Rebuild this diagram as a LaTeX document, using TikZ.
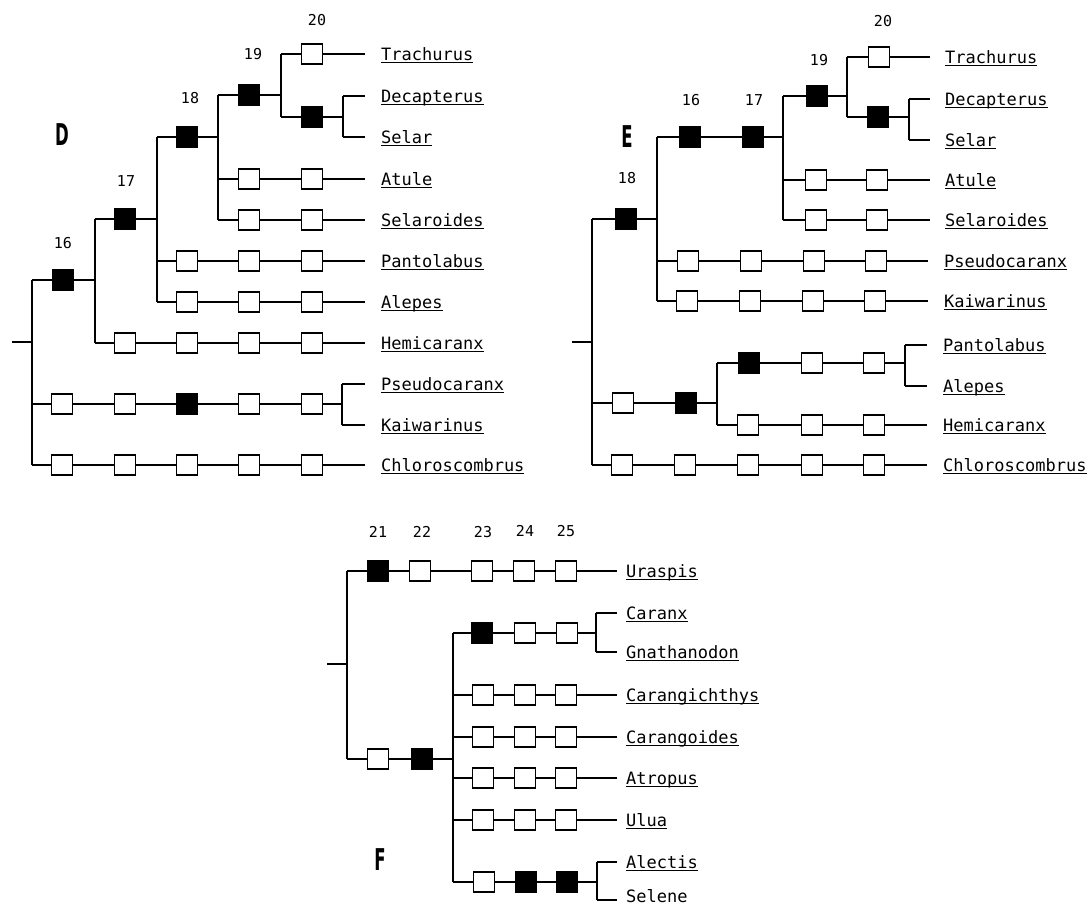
\documentclass[tikz,border=0pt]{standalone}
\usepackage{fontspec}
\newfontfamily\monofam{DejaVu Sans Mono}
\newfontfamily\panelfam{DejaVu Sans}
\newcommand\taxsize{\monofam\fontsize{17}{17}\selectfont}
% underlined genus name
\newcommand\ulab[1]{\sbox0{#1}\rlap{\rule[-2.7pt]{\wd0}{1pt}}\usebox0}
\tikzset{
  br/.style={line width=1.8pt},
  chr/.style={draw, line width=1.4pt, minimum width=21pt, minimum height=20pt, inner sep=0pt},
  opn/.style={chr, fill=white},
  sol/.style={chr, fill=black},
  taxon/.style={anchor=base west, inner sep=0pt, font=\taxsize},
  num/.style={inner sep=0pt, font=\monofam\fontsize{15}{15}\selectfont},
  panel/.style={inner sep=0pt, font=\panelfam\bfseries\fontsize{30}{30}\selectfont},
}
\begin{document}
\begin{tikzpicture}[x=1pt,y=-1pt]
\useasboundingbox (0,0) rectangle (1089,908);

% ================= Tree D =================
\node[panel] (pD) at (62,135) {\scalebox{0.55}[1]{D}};
\coordinate (dr0) at (12,342);  \coordinate (dr) at (32,342);
\coordinate (dr1) at (32,280);  \coordinate (dr2) at (32,465); \coordinate (drp) at (32,404);
\coordinate (dj16) at (95,280); \coordinate (dj16a) at (95,219); \coordinate (dj16b) at (95,343);
\coordinate (dj17) at (157,219); \coordinate (dj17a) at (157,137); \coordinate (dj17b) at (157,302); \coordinate (dj17c) at (157,261);
\coordinate (dj18) at (218,137); \coordinate (dj18a) at (218,95); \coordinate (dj18b) at (218,220); \coordinate (dj18c) at (218,179);
\coordinate (dj19) at (281,95); \coordinate (dj19a) at (281,54); \coordinate (dj19b) at (281,117);
\coordinate (dj20) at (343,117); \coordinate (dj20a) at (343,96); \coordinate (dj20b) at (343,137);
\coordinate (djp) at (342,404); \coordinate (djpa) at (342,384); \coordinate (djpb) at (342,425);
% line ends
\coordinate (deTra) at (365,54);  \coordinate (deDec) at (365,96);  \coordinate (deSel) at (365,137);
\coordinate (deAtu) at (365,179); \coordinate (deSlr) at (365,220); \coordinate (dePan) at (365,261);
\coordinate (deAle) at (365,302); \coordinate (deHem) at (365,343); \coordinate (dePse) at (365,384);
\coordinate (deKai) at (365,425); \coordinate (deChl) at (365,465);

\draw[br] (dr0) -- (dr);
\draw[br] (dr1) -- (dr2);
\draw[br] (dj16a) -- (dj16b);
\draw[br] (dj17a) -- (dj17b);
\draw[br] (dj18a) -- (dj18b);
\draw[br] (dj19a) -- (dj19b);
\draw[br] (dj20a) -- (dj20b);
\draw[br] (djpa) -- (djpb);

\node[sol] (d16) at (63,280) {};
\node[sol] (d17) at (125,219) {};
\node[sol] (d18) at (187,137) {};
\node[sol] (d19) at (249,95) {};
\node[opn] (d20) at (312,54) {};
\node[sol] (dDS) at (312,117) {};
\node[opn] (dAt1) at (249,179) {}; \node[opn] (dAt2) at (312,179) {};
\node[opn] (dSl1) at (249,220) {}; \node[opn] (dSl2) at (312,220) {};
\node[opn] (dPa1) at (187,261) {}; \node[opn] (dPa2) at (249,261) {}; \node[opn] (dPa3) at (312,261) {};
\node[opn] (dAl1) at (187,302) {}; \node[opn] (dAl2) at (249,302) {}; \node[opn] (dAl3) at (312,302) {};
\node[opn] (dHe1) at (125,343) {}; \node[opn] (dHe2) at (187,343) {}; \node[opn] (dHe3) at (249,343) {}; \node[opn] (dHe4) at (312,343) {};
\node[opn] (dPs1) at (62,404) {}; \node[opn] (dPs2) at (125,404) {}; \node[sol] (dPs3) at (187,404) {}; \node[opn] (dPs4) at (249,404) {}; \node[opn] (dPs5) at (312,404) {};
\node[opn] (dCh1) at (62,465) {}; \node[opn] (dCh2) at (125,465) {}; \node[opn] (dCh3) at (187,465) {}; \node[opn] (dCh4) at (249,465) {}; \node[opn] (dCh5) at (312,465) {};

\draw[br] (dr1) -- (d16) -- (dj16);
\draw[br] (dj16a) -- (d17) -- (dj17);
\draw[br] (dj17a) -- (d18) -- (dj18);
\draw[br] (dj18a) -- (d19) -- (dj19);
\draw[br] (dj19a) -- (d20) -- (deTra);
\draw[br] (dj19b) -- (dDS) -- (dj20);
\draw[br] (dj20a) -- (deDec);
\draw[br] (dj20b) -- (deSel);
\draw[br] (dj18c) -- (dAt1) -- (dAt2) -- (deAtu);
\draw[br] (dj18b) -- (dSl1) -- (dSl2) -- (deSlr);
\draw[br] (dj17c) -- (dPa1) -- (dPa2) -- (dPa3) -- (dePan);
\draw[br] (dj17b) -- (dAl1) -- (dAl2) -- (dAl3) -- (deAle);
\draw[br] (dj16b) -- (dHe1) -- (dHe2) -- (dHe3) -- (dHe4) -- (deHem);
\draw[br] (drp) -- (dPs1) -- (dPs2) -- (dPs3) -- (dPs4) -- (dPs5) -- (djp);
\draw[br] (djpa) -- (dePse);
\draw[br] (djpb) -- (deKai);
\draw[br] (dr2) -- (dCh1) -- (dCh2) -- (dCh3) -- (dCh4) -- (dCh5) -- (deChl);

\node[num] (dn16) at (63,243) {16};
\node[num] (dn17) at (126,181) {17};
\node[num] (dn18) at (190,98) {18};
\node[num] (dn19) at (253,54) {19};
\node[num] (dn20) at (317,20) {20};

\node[taxon] (dtTra) at (381,60)  {\ulab{Trachurus}};
\node[taxon] (dtDec) at (381,102) {\ulab{Decapterus}};
\node[taxon] (dtSel) at (381,143) {\ulab{Selar}};
\node[taxon] (dtAtu) at (381,185) {\ulab{Atule}};
\node[taxon] (dtSlr) at (381,226) {\ulab{Selaroides}};
\node[taxon] (dtPan) at (381,267) {\ulab{Pantolabus}};
\node[taxon] (dtAle) at (381,308) {\ulab{Alepes}};
\node[taxon] (dtHem) at (381,349) {\ulab{Hemicaranx}};
\node[taxon] (dtPse) at (381,390) {\ulab{Pseudocaranx}};
\node[taxon] (dtKai) at (381,431) {\ulab{Kaiwarinus}};
\node[taxon] (dtChl) at (381,471) {\ulab{Chloroscombrus}};

% ================= Tree E =================
\node[panel] (pE) at (627,137) {\scalebox{0.55}[1]{E}};
\coordinate (er0) at (572,342); \coordinate (er) at (592,342);
\coordinate (er1) at (592,219); \coordinate (er2) at (592,465); \coordinate (erx) at (592,403);
\coordinate (ej18) at (657,219); \coordinate (ej18a) at (657,137); \coordinate (ej18b) at (657,301); \coordinate (ej18c) at (657,261);
\coordinate (ej17) at (783,137); \coordinate (ej17a) at (783,96); \coordinate (ej17b) at (783,220); \coordinate (ej17c) at (783,180);
\coordinate (ej19) at (847,96); \coordinate (ej19a) at (847,57); \coordinate (ej19b) at (847,117);
\coordinate (ej20) at (909,117); \coordinate (ej20a) at (909,99); \coordinate (ej20b) at (909,140);
\coordinate (ejx) at (717,403); \coordinate (ejxa) at (717,363); \coordinate (ejxb) at (717,425);
\coordinate (ejp) at (905,363); \coordinate (ejpa) at (905,345); \coordinate (ejpb) at (905,386);
% line ends
\coordinate (eeTra) at (930,57);  \coordinate (eeDec) at (930,99);  \coordinate (eeSel) at (930,140);
\coordinate (eeAtu) at (930,180); \coordinate (eeSlr) at (930,220); \coordinate (eePse) at (928,261);
\coordinate (eeKai) at (928,301); \coordinate (eePan) at (927,345); \coordinate (eeAle) at (927,386);
\coordinate (eeHem) at (927,425); \coordinate (eeChl) at (927,465);

\draw[br] (er0) -- (er);
\draw[br] (er1) -- (er2);
\draw[br] (ej18a) -- (ej18b);
\draw[br] (ej17a) -- (ej17b);
\draw[br] (ej19a) -- (ej19b);
\draw[br] (ej20a) -- (ej20b);
\draw[br] (ejxa) -- (ejxb);
\draw[br] (ejpa) -- (ejpb);

\node[sol] (e18) at (626,219) {};
\node[sol] (e16) at (690,137) {};
\node[sol] (e17) at (753,137) {};
\node[sol] (e19) at (817,96) {};
\node[opn] (e20) at (879,57) {};
\node[sol] (eDS) at (878,117) {};
\node[opn] (eAt1) at (816,180) {}; \node[opn] (eAt2) at (877,180) {};
\node[opn] (eSl1) at (816,220) {}; \node[opn] (eSl2) at (877,220) {};
\node[opn] (ePs1) at (688,261) {}; \node[opn] (ePs2) at (751,261) {}; \node[opn] (ePs3) at (814,261) {}; \node[opn] (ePs4) at (876,261) {};
\node[opn] (eKa1) at (687,301) {}; \node[opn] (eKa2) at (750,301) {}; \node[opn] (eKa3) at (813,301) {}; \node[opn] (eKa4) at (875,301) {};
\node[opn] (eX1) at (623,403) {}; \node[sol] (eX2) at (686,403) {};
\node[sol] (eP1) at (749,363) {}; \node[opn] (eP2) at (812,363) {}; \node[opn] (eP3) at (874,363) {};
\node[opn] (eHe1) at (748,425) {}; \node[opn] (eHe2) at (812,425) {}; \node[opn] (eHe3) at (874,425) {};
\node[opn] (eCh1) at (622,465) {}; \node[opn] (eCh2) at (685,465) {}; \node[opn] (eCh3) at (748,465) {}; \node[opn] (eCh4) at (812,465) {}; \node[opn] (eCh5) at (874,465) {};

\draw[br] (er1) -- (e18) -- (ej18);
\draw[br] (ej18a) -- (e16) -- (e17) -- (ej17);
\draw[br] (ej17a) -- (e19) -- (ej19);
\draw[br] (ej19a) -- (e20) -- (eeTra);
\draw[br] (ej19b) -- (eDS) -- (ej20);
\draw[br] (ej20a) -- (eeDec);
\draw[br] (ej20b) -- (eeSel);
\draw[br] (ej17c) -- (eAt1) -- (eAt2) -- (eeAtu);
\draw[br] (ej17b) -- (eSl1) -- (eSl2) -- (eeSlr);
\draw[br] (ej18c) -- (ePs1) -- (ePs2) -- (ePs3) -- (ePs4) -- (eePse);
\draw[br] (ej18b) -- (eKa1) -- (eKa2) -- (eKa3) -- (eKa4) -- (eeKai);
\draw[br] (erx) -- (eX1) -- (eX2) -- (ejx);
\draw[br] (ejxa) -- (eP1) -- (eP2) -- (eP3) -- (ejp);
\draw[br] (ejpa) -- (eePan);
\draw[br] (ejpb) -- (eeAle);
\draw[br] (ejxb) -- (eHe1) -- (eHe2) -- (eHe3) -- (eeHem);
\draw[br] (er2) -- (eCh1) -- (eCh2) -- (eCh3) -- (eCh4) -- (eCh5) -- (eeChl);

\node[num] (en18) at (627,178) {18};
\node[num] (en16) at (691,100) {16};
\node[num] (en17) at (754,100) {17};
\node[num] (en19) at (819,60) {19};
\node[num] (en20) at (883,21) {20};

\node[taxon] (etTra) at (945,63)  {\ulab{Trachurus}};
\node[taxon] (etDec) at (945,105) {\ulab{Decapterus}};
\node[taxon] (etSel) at (945,146) {\ulab{Selar}};
\node[taxon] (etAtu) at (945,186) {\ulab{Atule}};
\node[taxon] (etSlr) at (945,226) {\ulab{Selaroides}};
\node[taxon] (etPse) at (944,267) {\ulab{Pseudocaranx}};
\node[taxon] (etKai) at (944,307) {\ulab{Kaiwarinus}};
\node[taxon] (etPan) at (943,351) {\ulab{Pantolabus}};
\node[taxon] (etAle) at (943,392) {\ulab{Alepes}};
\node[taxon] (etHem) at (943,431) {\ulab{Hemicaranx}};
\node[taxon] (etChl) at (943,471) {\ulab{Chloroscombrus}};

% ================= Tree F =================
\node[panel] (pF) at (380,860) {\scalebox{0.55}[1]{F}};
\coordinate (fr0) at (327,664); \coordinate (fr) at (347,664);
\coordinate (fr1) at (347,571); \coordinate (fr2) at (347,759);
\coordinate (fj) at (453,759); \coordinate (fja) at (453,633); \coordinate (fjb) at (453,882);
\coordinate (fjCy) at (453,695); \coordinate (fjCo) at (453,737); \coordinate (fjAt) at (453,778); \coordinate (fjUl) at (453,820);
\coordinate (fjc) at (596,633); \coordinate (fjca) at (596,613); \coordinate (fjcb) at (596,652);
\coordinate (fjs) at (597,882); \coordinate (fjsa) at (597,862); \coordinate (fjsb) at (597,900);
% line ends
\coordinate (feUra) at (617,571); \coordinate (feCar) at (617,613); \coordinate (feGna) at (617,652);
\coordinate (feCy) at (617,695);  \coordinate (feCo) at (617,737);  \coordinate (feAt) at (617,778);
\coordinate (feUl) at (617,820);  \coordinate (feAl) at (617,862);  \coordinate (feSe) at (617,900);

\draw[br] (fr0) -- (fr);
\draw[br] (fr1) -- (fr2);
\draw[br] (fja) -- (fjb);
\draw[br] (fjca) -- (fjcb);
\draw[br] (fjsa) -- (fjsb);

\node[sol] (f21) at (378,571) {}; \node[opn] (f22) at (420,571) {};
\node[opn] (f23) at (482,571) {}; \node[opn] (f24) at (524,571) {}; \node[opn] (f25) at (566,571) {};
\node[opn] (fL1) at (378,759) {}; \node[sol] (fL2) at (422,759) {};
\node[sol] (fC1) at (482,633) {}; \node[opn] (fC2) at (525,633) {}; \node[opn] (fC3) at (567,633) {};
\node[opn] (fY1) at (483,695) {}; \node[opn] (fY2) at (525,695) {}; \node[opn] (fY3) at (566,695) {};
\node[opn] (fO1) at (483,737) {}; \node[opn] (fO2) at (525,737) {}; \node[opn] (fO3) at (566,737) {};
\node[opn] (fA1) at (483,778) {}; \node[opn] (fA2) at (525,778) {}; \node[opn] (fA3) at (566,778) {};
\node[opn] (fU1) at (483,820) {}; \node[opn] (fU2) at (525,820) {}; \node[opn] (fU3) at (566,820) {};
\node[opn] (fS1) at (484,882) {}; \node[sol] (fS2) at (526,882) {}; \node[sol] (fS3) at (567,882) {};

\draw[br] (fr1) -- (f21) -- (f22) -- (f23) -- (f24) -- (f25) -- (feUra);
\draw[br] (fr2) -- (fL1) -- (fL2) -- (fj);
\draw[br] (fja) -- (fC1) -- (fC2) -- (fC3) -- (fjc);
\draw[br] (fjca) -- (feCar);
\draw[br] (fjcb) -- (feGna);
\draw[br] (fjCy) -- (fY1) -- (fY2) -- (fY3) -- (feCy);
\draw[br] (fjCo) -- (fO1) -- (fO2) -- (fO3) -- (feCo);
\draw[br] (fjAt) -- (fA1) -- (fA2) -- (fA3) -- (feAt);
\draw[br] (fjUl) -- (fU1) -- (fU2) -- (fU3) -- (feUl);
\draw[br] (fjb) -- (fS1) -- (fS2) -- (fS3) -- (fjs);
\draw[br] (fjsa) -- (feAl);
\draw[br] (fjsb) -- (feSe);

\node[num] (fn21) at (378,532) {21};
\node[num] (fn22) at (422,532) {22};
\node[num] (fn23) at (483,532) {23};
\node[num] (fn24) at (525,531) {24};
\node[num] (fn25) at (566,531) {25};

\node[taxon] (ftUra) at (626,577) {\ulab{Uraspis}};
\node[taxon] (ftCar) at (626,619) {\ulab{Caranx}};
\node[taxon] (ftGna) at (626,658) {\ulab{Gnathanodon}};
\node[taxon] (ftCy)  at (626,701) {\ulab{Carangichthys}};
\node[taxon] (ftCo)  at (626,743) {\ulab{Carangoides}};
\node[taxon] (ftAt)  at (626,784) {\ulab{Atropus}};
\node[taxon] (ftUl)  at (626,826) {\ulab{Ulua}};
\node[taxon] (ftAl)  at (626,868) {\ulab{Alectis}};
\node[taxon] (ftSe)  at (626,902) {Selene};
\end{tikzpicture}
\end{document}
